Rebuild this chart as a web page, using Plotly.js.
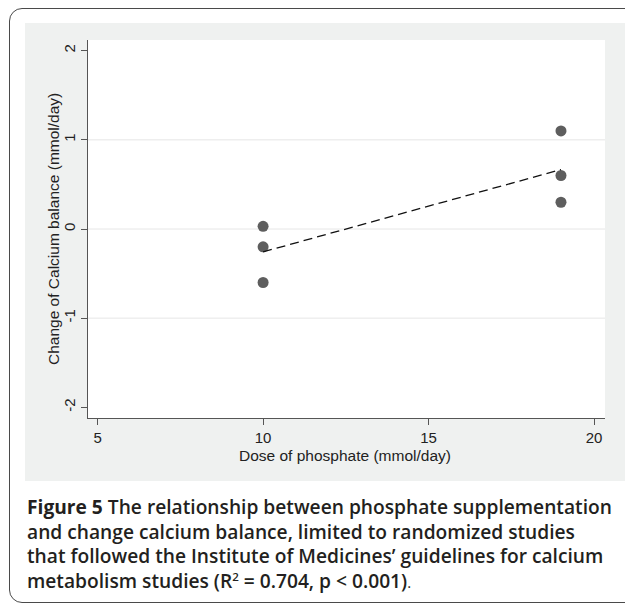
<!DOCTYPE html>
<html>
<head>
<meta charset="utf-8">
<script src="https://cdn.plot.ly/plotly-3.0.1.min.js"></script>
<style>
  html, body { margin: 0; padding: 0; background: #ffffff; overflow: hidden; }
  body { width: 100vw; height: 100vh; position: relative; }
  #frame { position: absolute; left: 9px; top: 8px; width: calc(100% + 60px); height: 595px;
           border: 1.5px solid #4a4a4a; border-radius: 13px; box-sizing: border-box; }
  #panel { position: absolute; left: 25px; top: 23px; width: calc(100% + 60px); height: 458px; background: #eff1f0; }
  #chart { position: absolute; left: 0; top: 0; width: 625px; height: 604px; }
  #caption { position: absolute; left: 27px; top: 495px; width: 600px;
             font-family: "Open Sans", "Noto Sans", sans-serif; font-size: 19.2px; line-height: 24.6px;
             color: #231f20; font-weight: 600; white-space: nowrap; }
  #caption b { font-weight: 700; }
  #caption sup { font-size: 11.5px; line-height: 0; vertical-align: 7.5px; }
  #caption .dot { font-weight: 400; font-size: 15px; }
</style>
</head>
<body>
<div id="frame"></div>
<div id="panel"></div>
<div id="chart"></div>
<div id="caption"><b>Figure 5</b> The relationship between phosphate supplementation<br>and change calcium balance, limited to randomized studies<br>that followed the Institute of Medicines’ guidelines for calcium<br>metabolism studies (R<sup>2</sup> = 0.704, p &lt; 0.001)<span class="dot">.</span></div>
<script>
// Data
const dose = [10, 10, 10, 19, 19, 19];
const calciumChange = [0.03, -0.2, -0.6, 1.1, 0.6, 0.3];
const xTicks = [5, 10, 15, 20];
const yTicks = [-2, -1, 0, 1, 2];
const gridVals = [-1, 0, 1];
const xTitle = 'Dose of phosphate (mmol/day)';
const yTitle = 'Change of Calcium balance (mmol/day)';

// Least-squares fit from the data
const n = dose.length;
const mx = dose.reduce((a, b) => a + b, 0) / n;
const my = calciumChange.reduce((a, b) => a + b, 0) / n;
let sxy = 0, sxx = 0;
for (let i = 0; i < n; i++) { sxy += (dose[i] - mx) * (calciumChange[i] - my); sxx += (dose[i] - mx) ** 2; }
const slope = sxy / sxx, intercept = my - slope * mx;
const fitX = [Math.min(...dose), Math.max(...dose)];
const fitY = fitX.map(x => intercept + slope * x);

const traces = [
  { x: dose, y: calciumChange, type: 'scatter', mode: 'markers',
    marker: { color: '#5e5e5e', size: 11, line: { width: 0 } }, hoverinfo: 'x+y' },
  { x: fitX, y: fitY, type: 'scatter', mode: 'lines',
    line: { color: '#111111', width: 1.3, dash: '9px,5px' }, hoverinfo: 'skip' }
];

const fam = '"Liberation Sans", Arial, sans-serif';
const axisFont = { family: fam, size: 15, color: '#222222' };
const titleFont = { family: fam, size: 15.5, color: '#222222' };
const layout = {
  width: 625, height: 604,
  margin: { l: 88, r: 20, t: 40, b: 186 },
  paper_bgcolor: 'rgba(0,0,0,0)',
  plot_bgcolor: '#ffffff',
  showlegend: false,
  xaxis: {
    range: [4.71, 20.33], tickvals: xTicks, ticktext: xTicks.map(String),
    showgrid: false, zeroline: false, showline: true, linecolor: '#555555', linewidth: 1,
    ticks: 'outside', ticklen: 6, tickcolor: '#555555', tickwidth: 1,
    tickfont: axisFont, ticklabelstandoff: 0
  },
  yaxis: {
    range: [-2.12, 2.12], tickvals: yTicks, ticktext: yTicks.map(String),
    showgrid: false, zeroline: false, showline: true, linecolor: '#555555', linewidth: 1,
    ticks: 'outside', ticklen: 6, tickcolor: '#555555', tickwidth: 1,
    tickfont: axisFont, tickangle: -90
  },
  annotations: [
    { text: xTitle, xref: 'paper', yref: 'paper', x: 0.5, y: 0, yshift: -37, xshift: -2,
      xanchor: 'center', yanchor: 'middle', showarrow: false, font: titleFont },
    { text: yTitle, xref: 'paper', yref: 'paper', x: 0, y: 0.5, xshift: -35, textangle: -90,
      xanchor: 'center', yanchor: 'middle', showarrow: false, font: titleFont }
  ],
  shapes: gridVals.map(v => ({ type: 'line', xref: 'paper', x0: 0, x1: 1, yref: 'y', y0: v, y1: v,
                               line: { color: '#e6e6e6', width: 1 }, layer: 'below' }))
};

Plotly.newPlot('chart', traces, layout, { displayModeBar: false, staticPlot: true });
</script>
</body>
</html>
